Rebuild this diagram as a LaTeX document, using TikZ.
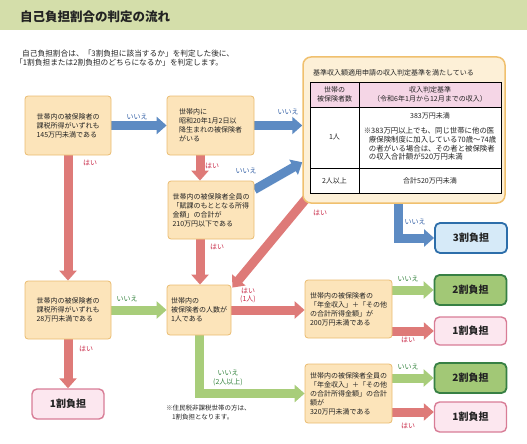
\documentclass[tikz,border=0pt]{standalone}
\usepackage{fontspec}
\setmainfont{Noto Sans CJK JP}
\usetikzlibrary{arrows.meta,calc,backgrounds}

\definecolor{bandgreen}{RGB}{212,222,170}
\definecolor{qfill}{RGB}{252,228,186}
\definecolor{qedge}{RGB}{234,188,112}
\definecolor{tfill}{RGB}{253,240,215}
\definecolor{tedge}{RGB}{240,192,110}
\definecolor{headpink}{RGB}{245,214,230}
\definecolor{yesred}{RGB}{222,122,120}
\definecolor{noblue}{RGB}{93,139,195}
\definecolor{nogreen}{RGB}{168,205,122}
\definecolor{yestext}{RGB}{200,40,70}
\definecolor{notext}{RGB}{50,95,165}
\definecolor{nogtext}{RGB}{50,130,60}
\definecolor{sanfill}{RGB}{214,234,248}
\definecolor{sanedge}{RGB}{45,110,170}
\definecolor{nifill}{RGB}{162,200,118}
\definecolor{niedge}{RGB}{55,128,68}
\definecolor{ichifill}{RGB}{252,231,239}
\definecolor{ichiedge}{RGB}{216,125,150}
\definecolor{textgray}{RGB}{35,35,35}

\begin{document}
\begin{tikzpicture}[x=1pt, y=-1pt,
    every node/.style={text=textgray},
    qbox/.style={draw=qedge, fill=qfill, rounded corners=3pt, line width=0.8pt,
      align=left, inner sep=1pt, font=\fontsize{7}{9}\selectfont},
    rbox/.style={rounded corners=5pt, line width=1.8pt, minimum width=72pt,
      minimum height=30pt, font=\fontsize{10}{12}\selectfont\bfseries},
    sanbox/.style={rbox, draw=sanedge, fill=sanfill},
    nibox/.style={rbox, draw=niedge, fill=nifill},
    ichibox/.style={rbox, draw=ichiedge, fill=ichifill, line width=1.4pt},
    flow/.style={line width=9pt, line join=miter, -{Triangle[width=17pt,length=10pt]}},
    yesflow/.style={flow, draw=yesred},
    noflow/.style={flow, draw=noblue},
    nogflow/.style={flow, draw=nogreen},
    lab/.style={font=\fontsize{7}{8.5}\selectfont, align=center, inner sep=0pt},
    yeslab/.style={lab, text=yestext},
    nolab/.style={lab, text=notext},
    noglab/.style={lab, text=nogtext},
    cell/.style={font=\fontsize{7}{8.7}\selectfont, align=center, inner sep=0pt}
  ]
  \useasboundingbox (0,0) rectangle (527,444);

  % タイトル帯
  \fill[bandgreen] (0,0) rectangle (527,30);
  \node[font=\fontsize{12.5}{14}\selectfont\bfseries, anchor=west, inner sep=0pt] (title) at (20,17) {自己負担割合の判定の流れ};

  % 説明文
  \node[font=\fontsize{7.7}{9}\selectfont, anchor=west, inner sep=0pt] (intro1) at (22,54) {自己負担割合は、「3割負担に該当するか」を判定した後に、};
  \node[font=\fontsize{7.7}{9}\selectfont, anchor=west, inner sep=0pt] (intro2) at (15,63) {「1割負担または2割負担のどちらになるか」を判定します。};

  % 判定ボックス
  \node[qbox, minimum width=86pt, minimum height=59pt] (q145) at (68,125.5) {世帯内の被保険者の\\課税所得がいずれも\\145万円未満である};
  \node[qbox, minimum width=87pt, minimum height=59pt] (q1945) at (210.5,125.5) {世帯内に\\昭和20年1月2日以\\降生まれの被保険者\\がいる};
  \node[qbox, minimum width=86pt, minimum height=58pt] (q210) at (211,210) {世帯内の被保険者全員の\\「賦課のもととなる所得\\金額」の合計が\\210万円以下である};
  \node[qbox, minimum width=86pt, minimum height=58pt] (q28) at (68,310) {世帯内の被保険者の\\課税所得がいずれも\\28万円未満である};
  \node[qbox, minimum width=64pt, minimum height=50pt] (ninzu) at (199,310) {世帯内の\\被保険者の人数が\\1人である};
  \node[qbox, minimum width=87pt, minimum height=58pt] (q200) at (348.5,309) {世帯内の被保険者の\\「年金収入」＋「その他\\の合計所得金額」が\\200万円未満である};
  \node[qbox, minimum width=87pt, minimum height=59pt] (q320) at (348.5,393.5) {世帯内の被保険者全員の\\「年金収入」＋「その他\\の合計所得金額」の合計\\額が\\320万円未満である};

  % 基準収入額の判定
  \node[draw=tedge, fill=tfill, rounded corners=8pt, line width=1.5pt, minimum width=202pt, minimum height=146pt] (kijun) at (404,130) {};
  \node[cell, anchor=west] (kijuntitle) at (313,73) {基準収入額適用申請の収入判定基準を満たしている};
  \fill[headpink] (310,82) rectangle (501,107);
  \fill[white] (310,107) rectangle (501,193);
  \draw[line width=0.9pt] (310,82) rectangle (501,193)
    (359,82) -- (359,193) (310,107) -- (501,107) (310,168) -- (501,168);
  \node[cell] (headninzu) at (334.5,94.5) {世帯の\\被保険者数};
  \node[cell] (headkijun) at (430,94.5) {収入判定基準\\（令和6年1月から12月までの収入）};
  \node[cell] (hitori) at (334.5,137) {1人};
  \node[cell] (hitorikijun) at (430,116) {383万円未満};
  \node[cell, align=left, font=\fontsize{7.4}{8.7}\selectfont] (hitorinote) at (430,144) {※383万円以上でも、同じ世帯に他の医\\\hspace*{0.7em}療保険制度に加入している70歳～74歳\\\hspace*{0.7em}の者がいる場合は、その者と被保険者\\\hspace*{0.7em}の収入合計額が520万円未満};
  \node[cell] (futari) at (334.5,180.5) {2人以上};
  \node[cell] (futarikijun) at (430,180.5) {合計520万円未満};

  % 負担割合
  \node[sanbox] (san) at (471,238) {3割負担};
  \node[nibox] (ni1) at (470.5,290) {2割負担};
  \node[ichibox, minimum height=28pt] (ichi1) at (470.5,331) {1割負担};
  \node[nibox] (ni2) at (470.5,378) {2割負担};
  \node[ichibox] (ichi2) at (470.5,417) {1割負担};
  \node[ichibox] (ichi3) at (68,404) {1割負担};

  % 矢印
  \coordinate (colC) at (200,0);
  \coordinate (colK) at (398,0);
  \begin{scope}[on background layer]
    \draw[noflow] (q145.east) -- (q1945.west);
    \draw[noflow] (q1945.east) -- (q1945.east -| kijun.west);
    \draw[yesflow] (q1945.south -| colC) -- (q210.north -| colC);
    \draw[noflow] ($(q210.north east)+(0,9)$) -- ($(kijun.north west)+(0,106)$);
    \draw[yesflow] (q210.south -| colC) -- (ninzu.north -| colC);
    \draw[yesflow] ($(kijun.south west)+(8,-10)$) -- ($(ninzu.north east)+(1,3)$);
    \draw[noflow] (kijun.south -| colK) |- (san.west);
    \draw[yesflow] (q145.south) -- (q28.north);
    \draw[nogflow] (q28.east) -- (ninzu.west);
    \draw[yesflow] (q28.south) -- (ichi3.north);
    \draw[yesflow] (ninzu.east) -- (ninzu.east -| q200.west);
    \draw[nogflow] (ninzu.south) |- (q320.west);
    \draw[nogflow] (q200.east |- ni1.west) -- (ni1.west);
    \draw[yesflow] (q200.east |- ichi1.west) -- (ichi1.west);
    \draw[nogflow] (q320.east |- ni2.west) -- (ni2.west);
    \draw[yesflow] ($(q320.east |- ichi2.west)+(0,-5)$) -- ($(ichi2.west)+(0,-5)$);
  \end{scope}

  % 矢印のラベル
  \node[nolab] (no1) at (137,117) {いいえ};
  \node[nolab] (no2) at (288,112) {いいえ};
  \node[yeslab] (yes1) at (212,166) {はい};
  \node[nolab] (no3) at (246,171) {いいえ};
  \node[yeslab] (yes2) at (217,247) {はい};
  \node[yeslab] (yes3) at (90,163) {はい};
  \node[yeslab] (yes4) at (320,213) {はい};
  \node[nolab] (no4) at (415,222) {いいえ};
  \node[noglab] (no5) at (127,299) {いいえ};
  \node[yeslab] (yes5) at (86,349) {はい};
  \node[yeslab] (yes6) at (248,295.5) {はい\\(1人)};
  \node[noglab] (no6) at (228,378) {いいえ\\(2人以上)};
  \node[noglab] (no7) at (408,279) {いいえ};
  \node[yeslab] (yes7) at (408,340) {はい};
  \node[noglab] (no8) at (408,367) {いいえ};
  \node[yeslab] (yes8) at (408,426) {はい};

  % 注記
  \node[font=\fontsize{6.5}{9}\selectfont, align=left, anchor=north west, inner sep=0pt] (note) at (166,405) {※住民税非課税世帯の方は、\\\hspace*{0.9em}1割負担となります。};
\end{tikzpicture}
\end{document}
